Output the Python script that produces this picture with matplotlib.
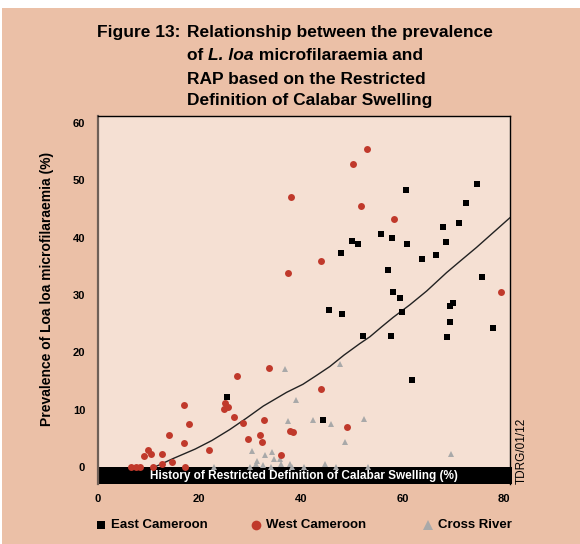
import matplotlib
matplotlib.use("Agg")
import matplotlib.pyplot as plt
import matplotlib.transforms as mtransforms
from matplotlib.lines import Line2D
from matplotlib.patches import Rectangle

plt.rcParams["font.family"] = ["Liberation Sans", "DejaVu Sans"]

# Kolory
BG_OUT = "#EBC0A7"
BG_IN = "#F5E0D3"
RED = "#C0392B"
GREY = "#A9A9A9"

# East Cameroon (kwadraty)
east_x = [25.5, 44.4, 45.6, 48.1, 52.3, 48.0, 50.1, 51.3, 55.8, 57.2, 58.0,
          58.2, 57.8, 59.6, 60.0, 60.7, 60.9, 61.9, 63.9, 66.7, 68.0, 68.6,
          68.8, 69.4, 69.4, 70.0, 71.2, 72.6, 74.7, 75.7, 77.9]
east_y = [12.2, 8.1, 27.3, 26.6, 22.8, 37.3, 39.4, 38.9, 40.6, 34.4, 39.9,
          30.5, 22.8, 29.4, 27.0, 48.3, 38.9, 15.1, 36.2, 36.9, 41.8, 39.3,
          22.6, 25.3, 28.0, 28.6, 42.5, 46.0, 49.3, 33.1, 24.2]

# West Cameroon (kółka)
west_x = [6.6, 7.5, 8.3, 10.9, 17.2, 9.2, 9.9, 10.4, 12.7, 12.7, 14.6, 14.0,
          16.9, 17.0, 18.0, 22.0, 25.1, 24.9, 25.7, 26.9, 27.4, 28.7, 29.6,
          32.0, 32.3, 32.7, 33.7, 36.1, 37.8, 38.4, 37.5, 38.1, 44.0, 44.0,
          49.1, 50.3, 51.8, 53.1, 58.3, 79.4]
west_y = [0.0, 0.0, 0.0, 0.0, 0.0, 1.9, 2.9, 2.3, 2.2, 0.5, 0.9, 5.6,
          4.1, 10.8, 7.5, 2.9, 11.2, 10.1, 10.5, 8.7, 15.9, 7.7, 4.9,
          5.6, 4.3, 8.2, 17.2, 2.0, 6.3, 6.0, 33.9, 47.1, 13.6, 36.0,
          6.9, 52.8, 45.5, 55.5, 43.2, 30.5]

# Cross River (trójkąty)
cross_x = [23.0, 30.0, 30.3, 31.1, 31.3, 32.6, 32.9, 34.2, 34.4, 34.7, 35.9,
           36.1, 36.9, 37.5, 37.9, 38.3, 39.0, 40.7, 42.4, 44.7, 46.0, 46.9,
           47.8, 48.7, 52.5, 53.3, 69.6]
cross_y = [0.0, 0.0, 2.8, 0.5, 1.0, 0.3, 2.0, 0.0, 2.6, 1.4, 1.3,
           0.5, 17.0, 8.0, 0.5, 0.0, 11.7, 0.0, 8.2, 0.5, 7.4, 0.0,
           18.0, 4.4, 8.4, 0.0, 2.2]

# Krzywa trendu
fit_x = [11.3, 15.0, 19.2, 22.5, 26.0, 29.3, 32.6, 37.2, 40.4, 43.0, 45.7,
         48.5, 51.6, 53.6, 56.0, 58.2, 61.5, 64.8, 68.7, 71.5, 74.6, 77.9, 81.2]
fit_y = [0.0, 1.5, 3.1, 4.6, 6.5, 8.5, 10.6, 13.0, 14.4, 15.9, 17.5,
         19.5, 21.5, 22.7, 24.5, 26.1, 28.3, 30.7, 33.9, 36.0, 38.3, 40.9, 43.5]

x_ticks = [0, 20, 40, 60, 80]
y_ticks = [0, 10, 20, 30, 40, 50, 60]

W, H = 580, 544
fig = plt.figure(figsize=(W / 100, H / 100), dpi=100)
fig.patch.set_facecolor("white")
fig.add_artist(Rectangle((2 / W, 0), 1, 1 - 8 / H, transform=fig.transFigure,
                         facecolor=BG_OUT, edgecolor="none", zorder=-10))

ax = fig.add_axes([97.7 / W, 1 - 484 / H, (510 - 97.7) / W, (484 - 115.7) / H])
ax.set_facecolor(BG_IN)
ax.set_xlim(0, 81.2)
ax.set_ylim(-3.0, 61.3)

# Czarny pasek z opisem osi X
trans = mtransforms.blended_transform_factory(ax.transAxes, ax.transData)
ax.add_patch(Rectangle((0, -3.0), 1.006, 2.9, transform=trans, facecolor="black",
                       edgecolor="none", clip_on=False, zorder=2))
ax.text(0.5, -1.55, "History of Restricted Definition of Calabar Swelling (%)",
        transform=trans, ha="center", va="center", color="white",
        fontsize=8.5, fontweight="bold", zorder=3)

ax.plot(fit_x, fit_y, color="#222222", linewidth=1.0, zorder=3)
ax.plot(cross_x, cross_y, linestyle="none", marker="^", markersize=4.8,
        color=GREY, markeredgewidth=0, zorder=4, clip_on=False)
ax.plot(west_x, west_y, linestyle="none", marker="o", markersize=5.0,
        color=RED, markeredgewidth=0, zorder=5, clip_on=False)
ax.plot(east_x, east_y, linestyle="none", marker="s", markersize=4.6,
        color="black", markeredgewidth=0, zorder=6, clip_on=False)

ax.set_xticks(x_ticks)
ax.set_yticks(y_ticks)
ax.tick_params(length=0, labelsize=8)
ax.tick_params(axis="x", pad=7)
ax.tick_params(axis="y", pad=9)
for lab in ax.get_xticklabels() + ax.get_yticklabels():
    lab.set_fontweight("bold")

ax.spines["bottom"].set_visible(False)
ax.spines["top"].set_linewidth(1.0)
ax.spines["right"].set_linewidth(1.0)
ax.spines["left"].set_color("#6e5f57")
ax.spines["left"].set_linewidth(1.6)

fig.text(47 / W, 1 - 289 / H, "Prevalence of Loa loa microfilaraemia (%)",
         rotation=90, ha="center", va="center", fontsize=10,
         fontweight="bold")
fig.text(522 / W, 1 - 484 / H, "TDRG/01/12", rotation=90, ha="center",
         va="bottom", fontsize=8.5)

# Tytuł
fs = 12.5
fig.text(97 / W, 1 - 33 / H, "Figure 13:", fontsize=fs, fontweight="bold",
         va="center")
fig.text(187 / W, 1 - 33 / H, "Relationship between the prevalence",
         fontsize=fs, fontweight="bold", va="center")
fig.text(187 / W, 1 - 79 / H, "RAP based on the Restricted",
         fontsize=fs, fontweight="bold", va="center")
fig.text(187 / W, 1 - 101 / H, "Definition of Calabar Swelling",
         fontsize=fs, fontweight="bold", va="center")
renderer = fig.canvas.get_renderer()
xpos = 187 / W
for part, style in [("of ", "normal"), ("L. loa", "italic"),
                    (" microfilaraemia and", "normal")]:
    t = fig.text(xpos, 1 - 56 / H, part, fontsize=fs, fontweight="bold",
                 fontstyle=style, va="center")
    xpos += t.get_window_extent(renderer).width / W

# Legenda
leg_y = 1 - 525 / H
entries = [(101, "s", "black", 6.0, "East Cameroon"),
           (256, "o", RED, 7.0, "West Cameroon"),
           (428, "^", GREY, 7.0, "Cross River")]
for px, mk, col, ms, label in entries:
    fig.add_artist(Line2D([px / W], [leg_y], marker=mk, color=col,
                          markersize=ms, markeredgewidth=0, linestyle="none",
                          transform=fig.transFigure))
    fig.text((px + 10) / W, leg_y, label, fontsize=9.5, fontweight="bold",
             va="center")

fig.savefig("out.png", dpi=100, facecolor=fig.get_facecolor())
